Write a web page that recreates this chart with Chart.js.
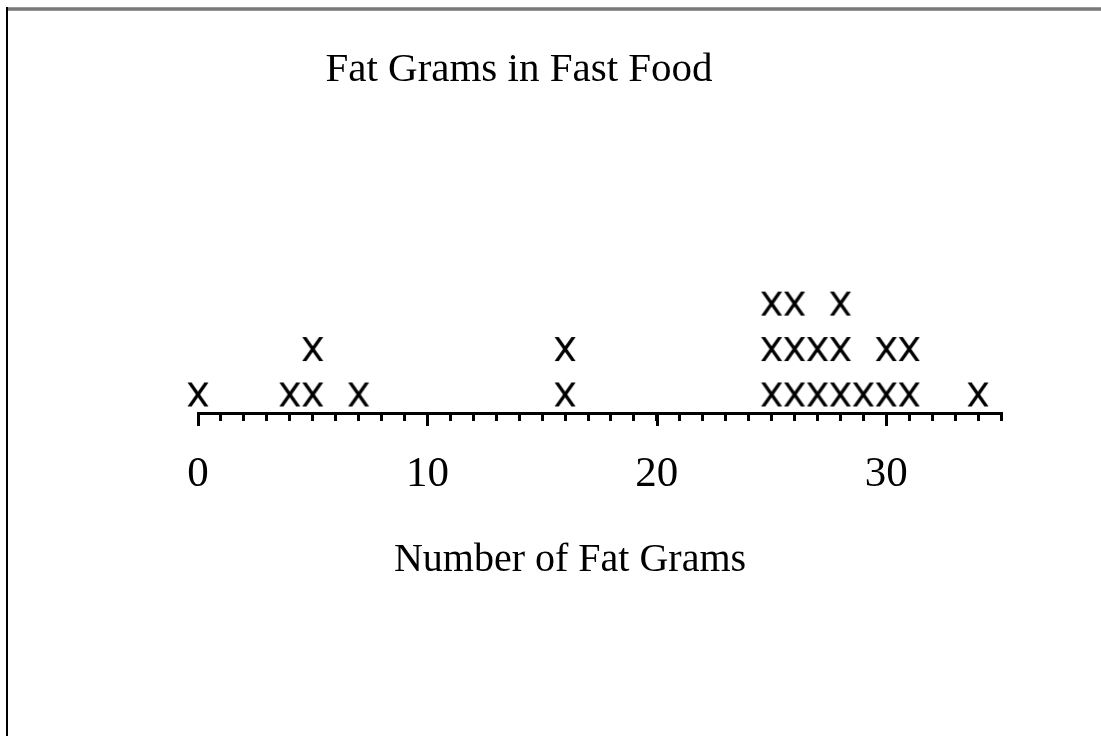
<!DOCTYPE html>
<html><head><meta charset="utf-8">
<script src="https://cdn.jsdelivr.net/npm/chart.js@4"></script>
<style>
html,body{margin:0;padding:0;background:#fff;}
#wrap{position:relative;width:1101px;height:736px;overflow:hidden;background:#fff;}
#frameTop{position:absolute;left:7px;top:7px;width:1094px;height:4px;background:linear-gradient(#a8a8a8,#707070 45%,#707070 55%,#a8a8a8);}
#frameLeft{position:absolute;left:6px;top:7px;width:2px;height:729px;background:#000;}
canvas{position:absolute;left:0;top:0;}
</style></head>
<body><div id="wrap"><canvas id="c" width="1101" height="736"></canvas><div id="frameTop"></div><div id="frameLeft"></div></div>
<script>
// ---- data ----
const chartTitle = 'Fat Grams in Fast Food';
const axisTitle = 'Number of Fat Grams';
const fatGrams = [0, 4, 5, 5, 7, 16, 16, 25, 25, 25, 26, 26, 26, 27, 27, 28, 28, 28, 29, 30, 30, 31, 31, 34];
const tickLabels = [0, 10, 20, 30];
const xMin = 0, xMax = 35;

// stack repeated values one above another
const counts = {};
const points = fatGrams.map(v => { const lvl = counts[v] || 0; counts[v] = lvl + 1; return {x: v, y: lvl}; });

function makeMarker() {
  const c = document.createElement('canvas');
  c.width = 24; c.height = 26;
  const g = c.getContext('2d');
  g.fillStyle = '#000';
  const x0 = 1.5, x1 = 22.5, t = 1, b = 25, w = 4.1;
  g.beginPath(); g.moveTo(x0, t); g.lineTo(x0 + w, t); g.lineTo(x1, b); g.lineTo(x1 - w, b); g.closePath(); g.fill();
  g.beginPath(); g.moveTo(x1, t); g.lineTo(x1 - w, t); g.lineTo(x0, b); g.lineTo(x0 + w, b); g.closePath(); g.fill();
  return c;
}
const marker = makeMarker();
const serif = '"Liberation Serif", "Times New Roman", Times, serif';

const extras = {
  id: 'extras',
  afterDraw(chart) {
    const ctx = chart.ctx, xs = chart.scales.x, bottom = chart.chartArea.bottom;
    ctx.save();
    ctx.strokeStyle = '#000';
    ctx.lineWidth = 3;
    ctx.lineCap = 'butt';
    tickLabels.forEach(v => {
      const px = Math.round(xs.getPixelForValue(v)) + 0.5;
      ctx.beginPath(); ctx.moveTo(px, bottom); ctx.lineTo(px, bottom + 12); ctx.stroke();
    });
    ctx.fillStyle = '#000';
    ctx.font = '40px ' + serif;
    ctx.textAlign = 'center';
    ctx.textBaseline = 'alphabetic';
    ctx.fillText(axisTitle, 570, 571);
    ctx.restore();
  }
};

new Chart(document.getElementById('c'), {
  type: 'scatter',
  data: { datasets: [{ data: points, pointStyle: marker, pointRadius: 12, showLine: false, clip: false }] },
  options: {
    responsive: false,
    animation: false,
    events: [],
    layout: { padding: { left: 0, right: 63, top: 0, bottom: 222 } },
    plugins: {
      legend: { display: false },
      tooltip: { enabled: false },
      title: {
        display: true, text: chartTitle, color: '#000',
        font: { family: serif, size: 41, weight: 'normal' },
        padding: { top: 46, bottom: 163 }
      }
    },
    scales: {
      x: {
        type: 'linear', min: xMin, max: xMax,
        afterFit(s) { s.height = 100; },
        ticks: {
          stepSize: 1, autoSkip: false, maxRotation: 0, minRotation: 0, padding: 28, color: '#000',
          font: { family: serif, size: 43 },
          callback: v => tickLabels.includes(v) ? String(v) : ''
        },
        grid: { drawOnChartArea: false, drawTicks: true, tickLength: 7, color: '#000', lineWidth: 3 },
        border: { display: true, color: '#000', width: 3 }
      },
      y: {
        position: 'left', min: -0.43, max: 3,
        afterFit(s) { s.width = 198; },
        ticks: { display: false }, grid: { display: false }, border: { display: false }
      },
      y2: {
        position: 'right', min: 0, max: 1,
        afterFit(s) { s.width = 37; },
        ticks: { display: false }, grid: { display: false }, border: { display: false }
      }
    }
  },
  plugins: [extras]
});
</script>
</body></html>
